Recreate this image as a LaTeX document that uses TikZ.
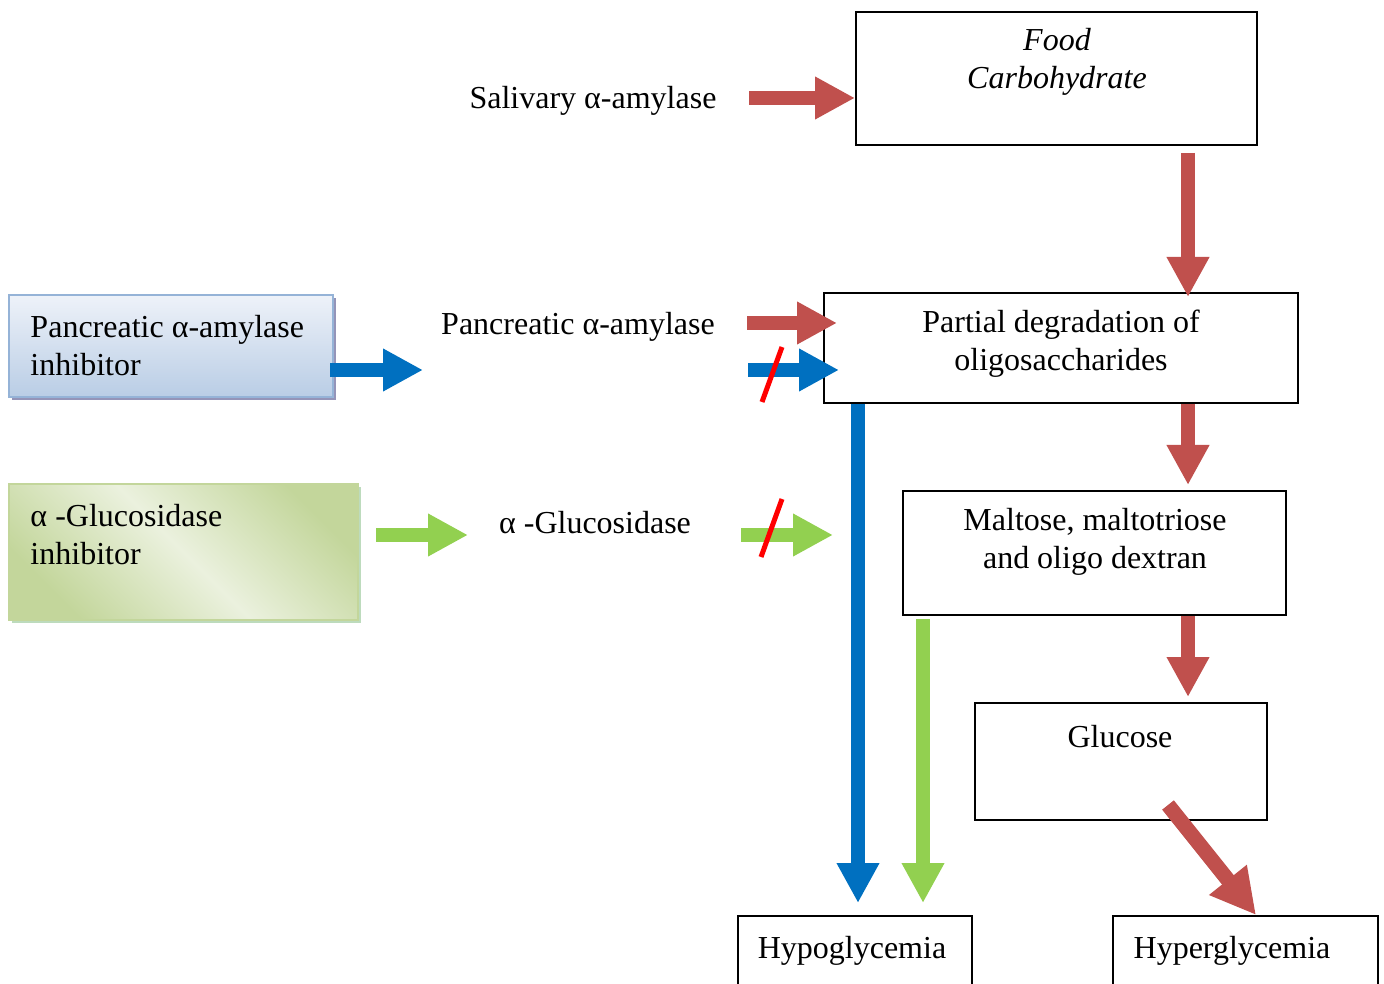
\documentclass[tikz,border=0pt]{standalone}
\usepackage{fontspec}
\setmainfont{Liberation Serif}
\usetikzlibrary{arrows.meta,calc,fit,shadows}
\definecolor{carbred}{HTML}{C0504D}
\definecolor{amylblue}{HTML}{0070C0}
\definecolor{glucgreen}{HTML}{92D050}
\definecolor{blockred}{HTML}{FF0000}
\definecolor{inhblueline}{HTML}{95B3D7}
\definecolor{inhbluetop}{HTML}{EEF2F9}
\definecolor{inhbluebot}{HTML}{B9CDE5}
\definecolor{inhgreendark}{HTML}{C3D69B}
\definecolor{inhgreenlight}{HTML}{EBF1DE}
\tikzset{
  box/.style={draw, line width=0.8pt, inner sep=0pt},
  lbl/.style={font=\fontsize{12.8}{15.2}\selectfont, align=center, inner sep=0pt},
  fat/.style={line width=5.4pt, -{Triangle[length=16pt,width=16pt]}},
  redarrow/.style={fat, draw=carbred},
  bluearrow/.style={fat, draw=amylblue},
  greenarrow/.style={fat, draw=glucgreen},
  blocked/.style={draw=blockred, line width=2pt},
  inhblue/.style={draw=inhblueline, line width=0.8pt, inner sep=0pt,
    top color=inhbluetop, bottom color=inhbluebot,
    drop shadow={shadow xshift=1.2pt, shadow yshift=-1.2pt, fill=gray!80!blue!70, opacity=1}},
  inhgreen/.style={draw=inhgreendark, line width=0.8pt, inner sep=0pt,
    top color=inhgreendark, bottom color=inhgreendark,
    middle color=inhgreenlight, shading angle=-45,
    drop shadow={shadow xshift=1.2pt, shadow yshift=-1.2pt, fill=gray!70!green!40, opacity=1}}
}
\begin{document}
\begin{tikzpicture}[x=0.4pt, y=-0.4pt]
\useasboundingbox (0,0) rectangle (1384,984);
% boxes
\node[box, fit={(856,12) (1257,145)}] (food) {};
\node[box, fit={(824,293) (1298,403)}] (partial) {};
\node[box, fit={(903,491) (1286,615)}] (maltose) {};
\node[box, fit={(975,703) (1267,820)}] (glucose) {};
\node[box, fit={(738,916) (972,1000)}] (hypo) {};
\node[box, fit={(1113,916) (1378,1000)}] (hyper) {};
\node[inhblue, fit={(9,295) (333,397)}] (pinh) {};
\node[inhgreen, fit={(9,484) (358,620)}] (ginh) {};
% texts
\node[lbl, font=\fontsize{12.8}{15.2}\selectfont\itshape] (foodtxt) at (1057,62) {Food\\Carbohydrate};
\node[lbl] (partialtxt) at (1061,344) {Partial degradation of\\oligosaccharides};
\node[lbl] (maltosetxt) at (1095,542) {Maltose, maltotriose\\and oligo dextran};
\node[lbl] (glucosetxt) at (1120,737) {Glucose};
\node[lbl] (hypotxt) at (852,951) {Hypoglycemia};
\node[lbl] (hypertxt) at (1232,951) {Hyperglycemia};
\node[lbl] (sal) at (593,101) {Salivary α-amylase};
\node[lbl] (panc) at (578,327) {Pancreatic α-amylase};
\node[lbl] (gluc) at (595,523) {α -Glucosidase};
\node[lbl, align=left, anchor=west] (pinhtxt) at (30,346) {Pancreatic α-amylase\\inhibitor};
\node[lbl, align=left, anchor=west] (ginhtxt) at (30,535) {α -Glucosidase\\inhibitor};
% arrow ends
\coordinate (redx) at (1188,0);
\coordinate (salin) at (749,98);
\coordinate (pancin) at (747,323);
\coordinate (blockin) at (748,370);
\coordinate (pinhout) at (330,370);
\coordinate (ginhout) at (376,535);
\coordinate (glucin) at (741,535);
\coordinate (glucout) at (1168,805);
\coordinate (hyperin) at (1256,0);
% main path
\draw[redarrow] (salin) -- (salin -| food.west);
\draw[redarrow] ($(food.south -| redx)+(0,7)$) -- ($(partial.north -| redx)+(0,5)$);
\draw[redarrow] (partial.south -| redx) -- ($(maltose.north -| redx)+(0,-5)$);
\draw[redarrow] (maltose.south -| redx) -- ($(glucose.north -| redx)+(0,-5)$);
\draw[redarrow, line width=6pt, -{Triangle[length=18pt,width=18pt]}] (glucout) -- (hyper.north -| hyperin);
% enzymes
\draw[redarrow] (pancin) -- ($(pancin -| partial.west)+(14,0)$);
\draw[bluearrow] (blockin) -- ($(blockin -| partial.west)+(16,0)$);
\draw[bluearrow] (pinhout) -- (423,370);
\draw[greenarrow] (ginhout) -- (468,535);
\draw[greenarrow] (glucin) -- (833,535);
% inhibited routes
\draw[bluearrow] ($(partial.south west)+(35,0)$) -- ($(hypo.north west)+(121,-12)$);
\draw[greenarrow] ($(maltose.south west)+(21,3)$) -- ($(hypo.north west)+(186,-12)$);
% blocks
\draw[blocked] (762,402) -- (782,347);
\draw[blocked] (761,557) -- (782,499);
\end{tikzpicture}
\end{document}
